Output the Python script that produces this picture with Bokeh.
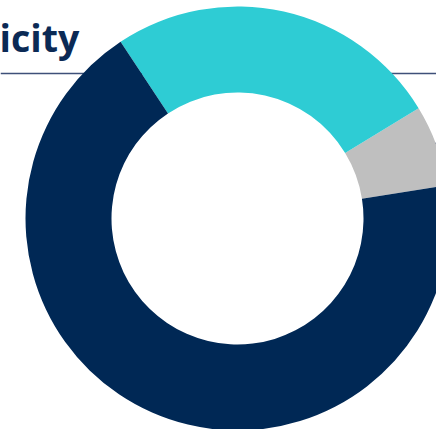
import numpy as np
from bokeh.plotting import figure
from bokeh.models import Range1d, ColumnDataSource
from bokeh.core.properties import value
from bokeh.embed import file_html
from bokeh.resources import INLINE

# Data (percentages)
categories = ["Group A", "Group B", "Group C"]
shares = [6.2, 25.6, 68.2]
colors = ["#BFBFBF", "#2ECCD4", "#002855"]
title_text = "icity"

W, H = 436, 429
start_deg = 9.0

vals = np.array(shares, dtype=float)
frac = vals / vals.sum()
ends = np.cumsum(frac) * 2 * np.pi + np.radians(start_deg)
starts = ends - frac * 2 * np.pi

src = ColumnDataSource(dict(cat=categories, val=shares, start=starts, end=ends, color=colors))

# data coords in pixels: x to the right, y negative downward from top
p = figure(width=W, height=H, output_backend="svg", toolbar_location=None,
           x_range=Range1d(0, W), y_range=Range1d(-H, 0),
           min_border=0)
p.axis.visible = False
p.grid.visible = False
p.outline_line_color = None
p.background_fill_color = "white"
p.border_fill_color = "white"

# divider lines behind the donut
p.segment(x0=[0, 425], y0=[-73, -143], x1=[W, W], y1=[-73, -143],
          line_color="#3E5079", line_width=1.3)

cx, cy = 237, -218
p.annular_wedge(x=cx, y=cy, inner_radius=126, outer_radius=212,
                start_angle="start", end_angle="end", color="color",
                line_color=None, source=src)

p.text(x=[-1], y=[-37], text=[title_text], text_font=value("Open Sans"),
       text_font_style="bold", text_font_size="37.5px", text_color="#0B2A55",
       text_baseline="alphabetic", text_align="left")

open("out.html", "w").write(file_html(p, INLINE))
